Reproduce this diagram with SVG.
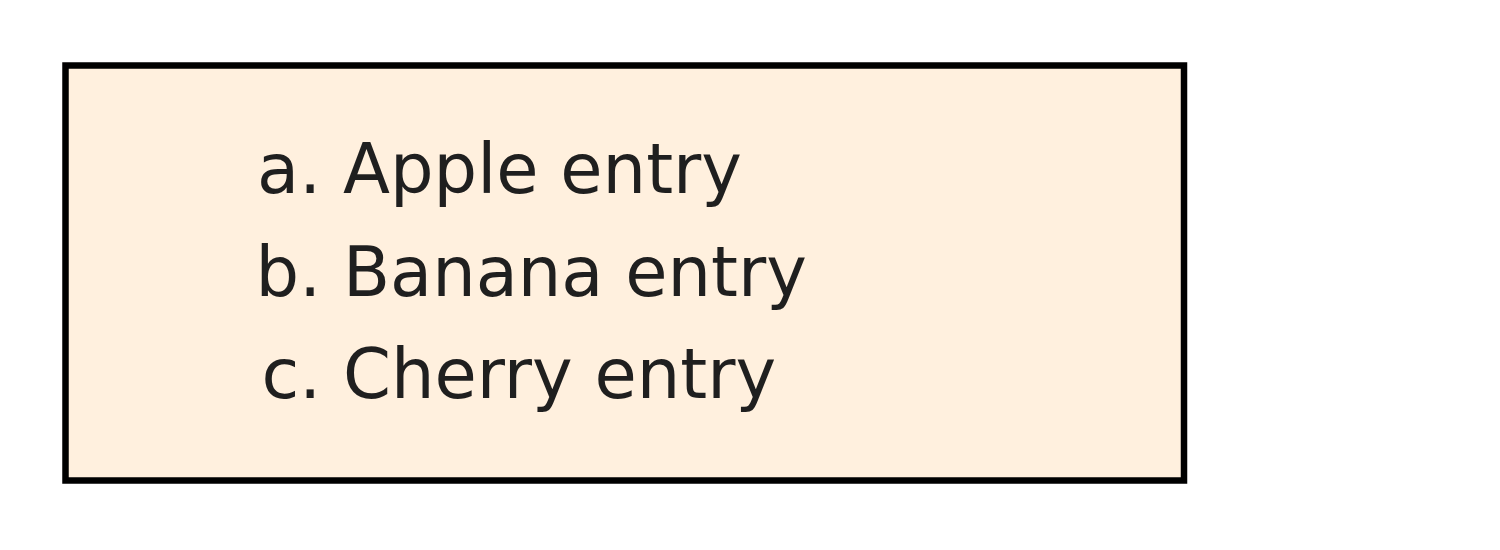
<svg xmlns="http://www.w3.org/2000/svg" width="1500" height="550" viewBox="0 0 1500 550">
<style>
.box{fill:#fff0de;stroke:#000;stroke-width:6.5}
.t{font-family:"DejaVu Sans",sans-serif;font-size:68.7px;fill:#1f1f1f}
.m{text-anchor:end}
</style>
<rect width="1500" height="550" fill="#fff"/>
<g id="list">
<rect class="box" x="65.5" y="65.5" width="1118.5" height="415"/>
<g id="item-a"><text class="t m" x="321" y="193">a.</text><text class="t" x="343" y="193">Apple entry</text></g>
<g id="item-b"><text class="t m" x="321" y="295.5">b.</text><text class="t" x="343" y="295.5">Banana entry</text></g>
<g id="item-c"><text class="t m" x="321" y="398">c.</text><text class="t" x="343" y="398">Cherry entry</text></g>
</g>
<g id="connectors"/>
</svg>
